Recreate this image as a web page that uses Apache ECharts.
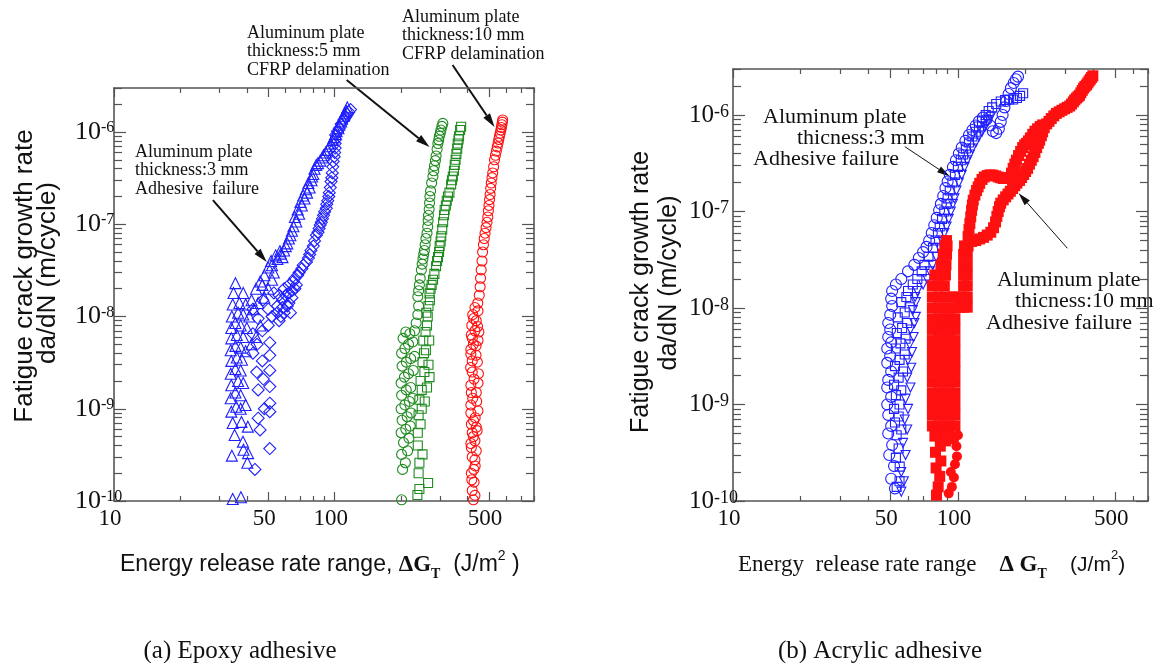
<!DOCTYPE html>
<html>
<head>
<meta charset="utf-8">
<title>Fatigue crack growth rate vs energy release rate range</title>
<script src="https://cdn.jsdelivr.net/npm/echarts@6.0.0/dist/echarts.min.js"></script>
<style>
    html, body { margin: 0; padding: 0; background: #ffffff; }
    #chart { width: 1166px; height: 663px; }
</style>
</head>
<body>
<div id="chart"></div>
<script>
var SERIF = '"Liberation Serif", "Times New Roman", serif';
var SANS = '"Liberation Sans", Arial, sans-serif';
var INK = '#111111';
var AXIS_COLOR = '#555555';
var BLUE = '#1f1fff';
var GREEN = '#1f8a1f';
var RED = '#ff1010';

/* ---- axis ranges, ticks and labels ---- */
var xMin = 10;
var epoxyXMax = 800;
var acrylXMax = 700;
var yMin = 1e-10;
var yMax = 3e-6;
var xMajorTicks = [10, 50, 100, 500];
var xMinorTicks = [20, 30, 40, 60, 70, 80, 90, 200, 300, 400, 600, 700, 800];
var yDecadeTicks = [1e-10, 1e-9, 1e-8, 1e-7, 1e-6];
var yMinorSteps = [2, 3, 4, 5, 6, 7, 8, 9];

/* ---- (a) epoxy adhesive: [dG_T (J/m2), da/dN (m/cycle)] ---- */
var epoxyTri3mm = [
    [34.5, 1.05e-10], [37.6, 1.1e-10], [40.2, 2.6e-10], [34.2, 3.1e-10], [38.6, 3.6e-10], [40.5, 3.3e-10],
    [38.4, 4.4e-10], [35.2, 5.2e-10], [40.4, 6.4e-10], [34.5, 7e-10], [37.8, 7.2e-10], [34, 9.3e-10],
    [37.5, 1e-9], [35.8, 1.05e-9], [39.5, 1.1e-9], [33.8, 1.3e-9], [37.5, 1.4e-9], [35.5, 1.5e-9],
    [34, 1.8e-9], [38.5, 1.9e-9], [36.5, 2e-9], [33.8, 2.4e-9], [37.5, 2.6e-9], [35.5, 2.7e-9],
    [34, 3.3e-9], [38, 3.4e-9], [36, 3.6e-9], [39.5, 4.2e-9], [33.8, 4.3e-9], [37.5, 4.6e-9],
    [35.5, 4.8e-9], [34, 5.8e-9], [38.5, 6e-9], [36, 6.3e-9], [34, 7.5e-9], [40, 7.5e-9],
    [37.5, 8e-9], [35.5, 8.5e-9], [41, 1e-8], [34.2, 1e-8], [38.5, 1.05e-8], [36.5, 1.1e-8],
    [34.5, 1.35e-8], [39.5, 1.35e-8], [37, 1.4e-8], [42, 1.5e-8], [34.8, 1.8e-8], [38.5, 1.8e-8],
    [42, 5e-9], [44, 6e-9], [46, 8e-9], [43, 1.2e-8], [45, 1.4e-8], [48, 1.6e-8],
    [50, 2e-8], [47, 2.2e-8], [52, 2.5e-8], [53, 3e-8],
    [44, 2e-8], [35.5, 2.3e-8], [46, 2.4e-8], [48, 2.8e-8], [50, 3.4e-8], [51.5, 4e-8],
    [54, 4.6e-8], [58, 4.4e-8], [56.5, 5.1e-8], [60, 5.8e-8], [62, 7e-8], [64, 8.5e-8],
    [67, 1.07e-7], [69, 1.3e-7], [71, 1.6e-7], [73, 1.9e-7], [75, 2.2e-7], [77, 2.5e-7],
    [78.5, 3e-7], [80, 3.5e-7], [82.5, 4.4e-7], [86, 4.9e-7], [89, 5.6e-7], [93, 6.4e-7],
    [96, 7.5e-7], [99, 8.8e-7], [102, 1.02e-6], [105, 1.2e-6], [108, 1.4e-6], [111, 1.6e-6],
    [114, 1.85e-6],
    [52, 3.6e-8], [55, 4.2e-8], [57, 4.8e-8], [59, 5.2e-8], [61, 6.2e-8], [63, 7.6e-8],
    [65, 9.5e-8], [66, 1.2e-7], [68, 1.45e-7], [70, 1.75e-7], [72, 2.05e-7], [74, 2.4e-7],
    [76, 2.8e-7], [79, 3.3e-7], [81, 4e-7], [84, 4.6e-7], [88, 5.3e-7], [91, 6e-7],
    [95, 7e-7], [98, 8.2e-7], [101, 9.5e-7], [104, 1.1e-6], [107, 1.3e-6], [110, 1.5e-6],
    [113, 1.7e-6]
];
var epoxyDia3mm = [
    [43.5, 2.2e-10], [50.8, 3.7e-10], [45.9, 5.9e-10], [45, 7.9e-10], [50.8, 9.3e-10], [48, 1e-9],
    [50.8, 1.15e-9], [45, 1.6e-9], [50.8, 1.74e-9], [47.5, 2.1e-9], [44.3, 2.5e-9], [50.8, 2.6e-9],
    [47, 3.3e-9], [50.8, 3.8e-9], [42.6, 4e-9], [44.5, 5e-9], [50.8, 5.2e-9], [42.6, 6.5e-9],
    [47, 7e-9], [50, 8e-9], [45, 9.5e-9], [52, 1e-8], [57, 1e-8], [55, 1.1e-8],
    [42.6, 1.2e-8], [50, 1.2e-8], [58, 1.25e-8], [61, 1.3e-8], [63, 1.1e-8], [55, 1.3e-8],
    [47.2, 1.5e-8], [58, 1.5e-8], [64, 1.6e-8], [56, 1.7e-8], [53, 1.8e-8], [62, 1.8e-8],
    [59, 2e-8], [66, 2e-8], [62, 2.2e-8], [65, 2.4e-8], [68, 2.8e-8], [71, 3.3e-8],
    [74.5, 3.9e-8], [77, 4.7e-8], [80, 5.8e-8], [82.6, 7.6e-8], [85, 9e-8], [87, 1.05e-7],
    [89, 1.25e-7], [91.6, 1.49e-7], [93, 1.8e-7], [94.5, 2.2e-7], [96.3, 2.9e-7], [97.5, 3.6e-7],
    [98.5, 4.8e-7], [100, 6e-7], [100.5, 7.5e-7], [101, 9.3e-7], [105, 1.1e-6], [110, 1.35e-6],
    [114, 1.55e-6], [118, 1.75e-6],
    [56, 9e-9], [59, 1.1e-8], [62, 1.4e-8], [60, 1.7e-8], [64, 1.9e-8], [67, 2.2e-8],
    [66, 2.6e-8], [69, 3e-8], [72, 3.6e-8], [76, 4.3e-8], [78, 5.2e-8], [81, 6.6e-8],
    [84, 8.2e-8], [86, 9.8e-8], [88, 1.15e-7], [90, 1.37e-7], [92, 1.65e-7], [94, 2e-7],
    [95.5, 2.5e-7], [97, 3.2e-7], [98, 4.2e-7], [99.5, 5.4e-7], [100.5, 6.7e-7], [101, 8.3e-7],
    [103, 1.02e-6], [107, 1.22e-6], [112, 1.45e-6], [116, 1.65e-6]
];
var epoxyCir5mm = [
    [201, 1.03e-10], [203, 2.2e-10], [209, 2.6e-10], [201, 3.2e-10], [214, 3.5e-10], [205, 4.3e-10],
    [217, 4.8e-10], [200, 5.5e-10], [210, 6e-10], [220, 6.5e-10], [202, 7.5e-10], [213, 8.2e-10],
    [222, 9e-10], [200, 1e-9], [208, 1.1e-9], [218, 1.2e-9], [226, 1.3e-9], [201, 1.4e-9],
    [211, 1.6e-9], [221, 1.7e-9], [200, 1.9e-9], [207, 2.2e-9], [216, 2.4e-9], [227, 2.6e-9],
    [202, 2.9e-9], [211, 3.2e-9], [221, 3.5e-9], [230, 3.7e-9], [201, 4e-9], [208, 4.5e-9],
    [216, 5e-9], [226, 5.3e-9], [204, 5.8e-9], [219, 6.5e-9], [210, 6.8e-9], [230, 7e-9],
    [234, 8.5e-9], [238, 1.05e-8], [240, 1.3e-8], [238, 1.64e-8], [240, 1.9e-8], [242, 2.2e-8],
    [244, 2.6e-8], [247, 3.2e-8], [249, 3.7e-8], [251, 4.2e-8], [253, 4.7e-8], [255, 5.2e-8],
    [257, 6e-8], [259, 7e-8], [262, 8e-8], [264, 9.4e-8], [265, 1.1e-7], [266, 1.25e-7],
    [268, 1.45e-7], [269, 1.7e-7], [270, 2e-7], [272, 2.3e-7], [275, 2.8e-7], [278.7, 3.3e-7],
    [281, 3.8e-7], [283, 4.3e-7], [286, 4.9e-7], [288, 5.5e-7], [291, 6.5e-7], [293.5, 7.5e-7],
    [296, 8.2e-7], [298, 9e-7], [301, 9.7e-7], [303, 1.05e-6], [306, 1.15e-6], [309, 1.24e-6]
];
var epoxySq5mm = [
    [237, 1.16e-10], [242, 1.35e-10], [265, 1.57e-10], [240, 2e-10], [242, 2.6e-10], [250, 3.2e-10],
    [238, 4e-10], [238, 5.5e-10], [245, 6.8e-10], [240, 8.5e-10], [248, 1e-9], [256, 1.2e-9],
    [242, 1.25e-9], [248, 1.6e-9], [262, 1.7e-9], [245, 2e-9], [269, 2.2e-9], [255, 2.5e-9],
    [266, 3e-9], [250, 3.2e-9], [254, 4e-9], [259, 4.3e-9], [252, 5.5e-9], [268, 5.5e-9],
    [258, 6.8e-9], [262, 8e-9], [264, 1e-8], [260, 1.1e-8], [266, 1.3e-8], [270, 1.5e-8],
    [269, 1.78e-8], [272, 2e-8], [275, 2.2e-8], [279, 2.5e-8], [283, 2.9e-8], [288, 3.5e-8],
    [291, 4e-8], [294, 4.4e-8], [297, 5e-8], [299, 5.8e-8], [302, 6.5e-8], [304, 7.4e-8],
    [307, 8.8e-8], [310, 1.05e-7], [313, 1.25e-7], [315, 1.43e-7], [319, 1.6e-7], [322, 1.8e-7],
    [326, 2e-7], [331, 2.2e-7], [337, 2.7e-7], [340, 3e-7], [343, 3.3e-7], [347, 3.8e-7],
    [350, 4.4e-7], [353, 5e-7], [356, 5.8e-7], [359, 6.6e-7], [361, 7.5e-7], [364, 8.3e-7],
    [366, 9e-7], [370, 1.05e-6], [374, 1.14e-6]
];
var epoxyCir10mm = [
    [425, 1.03e-10], [432, 1.15e-10], [420, 1.3e-10], [428, 1.6e-10], [418, 1.7e-10], [416, 2e-10],
    [427, 2.2e-10], [433, 2.4e-10], [420, 3e-10], [432, 2.8e-10], [438, 3.5e-10], [416, 3.8e-10],
    [414, 4.2e-10], [432, 4.5e-10], [425, 5e-10], [420, 5.5e-10], [442, 5.8e-10], [438, 6.3e-10],
    [416, 6.8e-10], [426, 7.4e-10], [433, 8e-10], [414, 9e-10], [446, 9.5e-10], [414, 1.1e-9],
    [440, 1.2e-9], [422, 1.3e-9], [416, 1.5e-9], [438, 1.5e-9], [414, 1.8e-9], [446, 1.9e-9],
    [428, 2.1e-9], [448, 2.4e-9], [420, 2.5e-9], [413, 2.8e-9], [443, 3.2e-9], [420, 3.3e-9],
    [437, 3.8e-9], [414, 3.9e-9], [414, 4.4e-9], [437, 4.8e-9], [425, 5e-9], [446, 5.5e-9],
    [420, 5.8e-9], [416, 6.3e-9], [432, 7e-9], [450, 6.8e-9], [444, 7.8e-9], [418, 8e-9],
    [438, 9e-9], [426, 9.5e-9], [422, 1.05e-8], [446, 1.15e-8], [432, 1.25e-8], [445, 1.4e-8],
    [452, 1.7e-8], [456, 2.1e-8], [458, 2.6e-8], [461, 3.2e-8], [465, 4e-8], [468, 5e-8],
    [472, 6e-8], [476, 7e-8], [480, 8e-8], [485, 9.2e-8], [490, 1.05e-7], [494, 1.2e-7],
    [497, 1.4e-7], [500, 1.6e-7], [503, 1.85e-7], [506, 2.1e-7], [509, 2.45e-7], [512, 2.8e-7],
    [516, 3.2e-7], [520, 3.6e-7], [525, 4.2e-7], [530, 5e-7], [535, 5.6e-7], [540, 6.2e-7],
    [545, 6.9e-7], [550, 7.6e-7], [554, 8.3e-7], [558, 9e-7], [562, 9.7e-7], [566, 1.05e-6],
    [569, 1.12e-6], [572, 1.2e-6], [575, 1.28e-6], [577, 1.35e-6]
];

/* ---- (b) acrylic adhesive ---- */
var acrylCir3mm = [
    [52.5, 1.35e-10], [50.5, 1.7e-10], [52, 2.3e-10], [49.5, 3e-10], [51, 3.8e-10], [49, 5e-10],
    [50.5, 6e-10], [49, 7.8e-10], [48.5, 1e-9], [50.5, 1.2e-9], [48.5, 1.5e-9], [49, 1.8e-9],
    [50.5, 2.2e-9], [48.5, 2.7e-9], [50, 3.2e-9], [48.5, 3.8e-9], [50.5, 4.4e-9], [49, 5e-9],
    [50, 6e-9], [49, 7e-9], [50, 8.5e-9], [51, 1.05e-8], [50.5, 1.25e-8], [51, 1.5e-8],
    [53, 1.75e-8], [56, 2e-8], [60, 2.4e-8], [64, 2.8e-8], [67, 3.3e-8], [70, 3.8e-8],
    [72.5, 4.3e-8], [74.5, 5e-8], [76.5, 6e-8], [78.5, 7.2e-8], [80.5, 8.6e-8], [82.5, 1.03e-7],
    [84, 1.2e-7], [86, 1.45e-7], [88, 1.75e-7], [90, 2.05e-7], [92, 2.4e-7], [95, 2.9e-7],
    [98, 3.4e-7], [101, 4e-7], [104, 4.6e-7], [108, 5.4e-7], [112, 6.2e-7], [116, 7e-7],
    [120, 7.8e-7], [124, 8.6e-7], [129, 9.4e-7], [134, 9e-7], [139, 7.8e-7], [143, 6.8e-7],
    [148, 6.5e-7], [152, 7.2e-7], [155, 8.5e-7], [158, 1e-6], [161, 1.2e-6], [164, 1.4e-6],
    [168, 1.65e-6], [172, 1.9e-6], [177, 2.15e-6], [181, 2.35e-6], [185, 2.5e-6]
];
var acrylSq3mm = [
    [53.4, 1.4e-10], [55, 1.6e-10], [55.1, 2.27e-10], [53, 2.8e-10], [54.5, 3.5e-10], [53.4, 4.8e-10],
    [56, 5.5e-10], [52.5, 6.5e-10], [54.5, 7.5e-10], [52, 9e-10], [55, 1e-9], [53, 1.25e-9],
    [56, 1.4e-9], [52, 1.6e-9], [54.5, 1.9e-9], [57, 2.2e-9], [52.5, 2.5e-9], [55, 2.9e-9],
    [58, 3.3e-9], [53, 3.8e-9], [55.5, 4.3e-9], [58.5, 4.8e-9], [53.5, 5.5e-9], [56.5, 6.2e-9],
    [59.5, 7e-9], [54, 8e-9], [58, 9e-9], [61, 1.02e-8], [56, 1.15e-8], [59, 1.3e-8],
    [60, 1.5e-8], [63, 1.75e-8], [66, 2e-8], [69, 2.4e-8], [71, 2.8e-8], [74, 3.4e-8],
    [77.5, 4.2e-8], [79.5, 5e-8], [81.5, 6e-8], [83, 7e-8], [85, 8.4e-8], [87, 1e-7],
    [89, 1.2e-7], [90, 1.37e-7], [92, 1.65e-7], [94.5, 2e-7], [97, 2.4e-7], [100, 2.9e-7],
    [103, 3.4e-7], [105.5, 3.9e-7], [108.5, 4.5e-7], [112, 5.2e-7], [116, 6e-7], [120, 6.7e-7],
    [124, 7.6e-7], [128, 8.6e-7], [133, 1e-6], [137, 1.1e-6], [142, 1.2e-6], [148, 1.3e-6],
    [155, 1.38e-6], [162, 1.43e-6], [169, 1.45e-6], [176, 1.45e-6], [183, 1.5e-6], [189, 1.58e-6],
    [195, 1.68e-6]
];
var acrylTri3mm = [
    [56, 1.25e-10], [57.5, 1.6e-10], [56, 2e-10], [58.5, 3e-10], [57, 4e-10], [59.5, 5.5e-10],
    [58, 7e-10], [60, 9e-10], [58.5, 1.15e-9], [61.5, 1.5e-9], [59.5, 1.9e-9], [62, 2.4e-9],
    [60, 2.9e-9], [62.5, 3.5e-9], [61, 4.2e-9], [63.5, 5e-9], [61.5, 6e-9], [64, 7e-9],
    [65, 8.1e-9], [63, 9.5e-9], [65, 1.15e-8], [64.5, 1.3e-8], [66, 1.5e-8], [70, 1.75e-8],
    [73, 2e-8], [75, 2.4e-8], [77, 2.8e-8], [80, 3.4e-8], [83, 4.2e-8], [85, 5e-8],
    [87, 6e-8], [89, 7e-8], [91, 8.4e-8], [93, 1e-7], [95, 1.2e-7], [96.5, 1.37e-7],
    [98.5, 1.65e-7], [101, 2e-7], [104, 2.4e-7], [107, 2.9e-7], [110, 3.4e-7], [113, 3.9e-7],
    [116, 4.5e-7], [120, 5.2e-7], [124, 6e-7], [128, 6.7e-7], [132, 7.6e-7], [136, 8.6e-7],
    [140, 9.6e-7]
];
var acrylSq10mm = [
    [80.3, 1.15e-10], [81.7, 1.4e-10], [83, 1.8e-10], [80, 2.2e-10], [84, 2.6e-10], [79.5, 3.2e-10],
    [83.5, 3.7e-10], [88, 4.2e-10], [79, 4.7e-10], [85, 5e-10], [91, 5.2e-10],
    [77, 6e-10], [82, 6e-10], [87, 6e-10], [92, 6e-10], [97, 6e-10],
    [77, 7.8e-10], [82, 7.8e-10], [87, 7.8e-10], [92, 7.8e-10], [97, 7.8e-10],
    [77, 1e-9], [82, 1e-9], [87, 1e-9], [92, 1e-9], [97, 1e-9],
    [77, 1.3e-9], [82, 1.3e-9], [87, 1.3e-9], [92, 1.3e-9], [97, 1.3e-9],
    [77, 1.7e-9], [82, 1.7e-9], [87, 1.7e-9], [92, 1.7e-9], [97, 1.7e-9],
    [77, 2.2e-9], [82, 2.2e-9], [87, 2.2e-9], [92, 2.2e-9], [97, 2.2e-9],
    [77, 2.8e-9], [82, 2.8e-9], [87, 2.8e-9], [92, 2.8e-9], [97, 2.8e-9],
    [77, 3.6e-9], [82, 3.6e-9], [87, 3.6e-9], [92, 3.6e-9], [97, 3.6e-9],
    [77, 4.6e-9], [82, 4.6e-9], [87, 4.6e-9], [92, 4.6e-9], [97, 4.6e-9],
    [77, 6e-9], [82, 6e-9], [87, 6e-9], [92, 6e-9], [97, 6e-9],
    [77, 7.7e-9], [82, 7.7e-9], [87, 7.7e-9], [92, 7.7e-9], [97, 7.7e-9],
    [77, 1e-8], [82, 1e-8], [87, 1e-8], [92, 1e-8], [97, 1e-8], [102, 1.02e-8], [106, 1.02e-8], [110, 1.02e-8],
    [77, 1.3e-8], [82, 1.3e-8], [87, 1.3e-8], [92, 1.3e-8], [97, 1.3e-8], [102, 1.3e-8], [106, 1.3e-8], [110, 1.3e-8],
    [77, 1.7e-8], [82, 1.7e-8], [87, 1.7e-8], [106, 1.7e-8], [110, 1.7e-8],
    [79, 2.2e-8], [84, 2.2e-8], [88, 2.2e-8], [106, 2.2e-8], [110, 2.2e-8],
    [84, 2.8e-8], [88.5, 2.8e-8], [106, 2.8e-8], [110, 2.8e-8],
    [86, 3.6e-8], [89, 3.6e-8], [106, 3.6e-8], [110, 3.6e-8],
    [87.5, 4.4e-8], [89.5, 4.4e-8], [107, 4.4e-8], [111, 4.4e-8], [89, 5e-8],
    [111, 5.5e-8], [112, 6.5e-8], [113, 7.5e-8], [114, 8.8e-8], [115, 1.03e-7], [116, 1.17e-7],
    [117, 1.31e-7], [119, 1.48e-7], [121, 1.65e-7], [123, 1.8e-7], [125, 1.96e-7], [128, 2.15e-7],
    [131, 2.28e-7], [135, 2.36e-7], [139, 2.4e-7], [143, 2.38e-7], [147, 2.34e-7], [151, 2.28e-7],
    [155, 2.24e-7], [159, 2.2e-7], [163, 2.2e-7], [167, 2.2e-7], [170, 2.25e-7], [173, 2.5e-7],
    [176, 2.8e-7], [179, 3.1e-7], [182, 3.4e-7], [186, 3.8e-7], [190, 4.2e-7], [194, 4.6e-7],
    [198, 4.9e-7], [202, 5.1e-7], [206, 5.4e-7], [210, 5.8e-7], [215, 6.3e-7], [220, 6.8e-7],
    [226, 7.2e-7], [232, 7.6e-7], [238, 7.9e-7],
    [115, 4.9e-8], [120, 5e-8], [125, 5.2e-8], [130, 5.4e-8], [135, 5.7e-8], [140, 6.1e-8],
    [144, 6.8e-8], [147, 7.8e-8], [149, 8.9e-8], [151, 1e-7], [153, 1.12e-7], [155, 1.22e-7],
    [159, 1.32e-7], [163, 1.42e-7], [167, 1.52e-7], [171, 1.62e-7], [175, 1.73e-7], [179, 1.85e-7],
    [183, 1.97e-7], [188, 2.1e-7], [192, 2.25e-7], [196, 2.42e-7], [200, 2.6e-7], [204, 2.8e-7],
    [208, 3.1e-7], [212, 3.4e-7], [216, 3.7e-7], [220, 4.1e-7], [224, 4.6e-7], [228, 5.1e-7],
    [231, 5.5e-7], [235, 6.1e-7], [238, 6.7e-7], [242, 7.4e-7],
    [248, 8.1e-7], [254, 8.6e-7], [260, 9.2e-7], [267, 9.8e-7], [274, 1.04e-6], [282, 1.08e-6],
    [290, 1.12e-6], [298, 1.16e-6], [306, 1.2e-6], [314, 1.24e-6], [320, 1.3e-6], [326, 1.37e-6],
    [331, 1.44e-6], [337, 1.5e-6], [342, 1.55e-6], [347, 1.6e-6], [352, 1.7e-6], [357, 1.8e-6],
    [362, 1.9e-6], [367, 1.98e-6], [373, 2.05e-6], [378, 2.15e-6], [383, 2.25e-6], [388, 2.35e-6],
    [393, 2.45e-6], [398, 2.55e-6]
];
var acrylCir10mm = [
    [91, 1.2e-10], [94, 1.4e-10], [96, 1.75e-10], [93, 2e-10], [97, 2.4e-10], [99, 2.9e-10],
    [98.5, 3.7e-10], [96, 4.3e-10], [100, 4.8e-10]
];

/* ---- annotation arrows: [from, to] in data coordinates ---- */
var epoxyArrows = [
    [[28.06, 1.83e-7], [49.2, 3.9e-8]],
    [[113.3, 3.66e-6], [269, 6.88e-7]],
    [[342, 5.32e-6], [530, 1.13e-6]]
];
var acrylArrows = [
    [[58.1, 4.7e-7], [92.1, 2.3e-7]],
    [[306.7, 4.16e-8], [186.2, 1.55e-7]]
];

/**
 * 只保留坐标轴范围内的刻度
 */
function within(values, lo, hi) {
    return values.filter(function (v) {
        return v >= lo * 0.999 && v <= hi * 1.001;
    });
}

/**
 * 对数坐标轴的公共配置
 */
function logAxis(gridIndex, min, max, extra) {
    var axis = {
        type: 'log',
        logBase: 10,
        gridIndex: gridIndex,
        min: min,
        max: max,
        splitLine: {show: false},
        axisLine: {show: false, onZero: false},
        axisLabel: {show: false},
        axisTick: {show: false}
    };
    return Object.assign(axis, extra);
}

function tickStyle(values, length) {
    return {
        show: true,
        inside: true,
        length: length,
        customValues: values,
        lineStyle: {color: AXIS_COLOR, width: 1.2}
    };
}

var boxLine = {show: true, onZero: false, lineStyle: {color: AXIS_COLOR, width: 1.6}};

/**
 * 下/上 X 轴 (主刻度 + 次刻度)
 */
function buildXAxes(gridIndex, max) {
    var major = within(xMajorTicks, xMin, max);
    var minor = within(xMinorTicks, xMin, max);
    return [
        logAxis(gridIndex, xMin, max, {
            position: 'bottom',
            axisLine: boxLine,
            axisTick: tickStyle(major, 9),
            axisLabel: {
                show: true,
                customValues: major,
                margin: 6,
                padding: [0, 8, 0, 0],
                fontFamily: SERIF,
                fontSize: 23,
                color: INK,
                formatter: function (v) {
                    return String(Math.round(v));
                }
            }
        }),
        logAxis(gridIndex, xMin, max, {position: 'bottom', axisTick: tickStyle(minor, 5)}),
        logAxis(gridIndex, xMin, max, {position: 'top', axisLine: boxLine, axisTick: tickStyle(major, 9)}),
        logAxis(gridIndex, xMin, max, {position: 'top', axisTick: tickStyle(minor, 5)})
    ];
}

/**
 * 左/右 Y 轴, 标签 10 的上标形式
 */
function buildYAxes(gridIndex, labelMargin, baseSize, supSize) {
    var major = within(yDecadeTicks, yMin, yMax);
    var minor = [];
    yDecadeTicks.forEach(function (d) {
        yMinorSteps.forEach(function (s) {
            minor.push(d * s);
        });
    });
    minor = within(minor, yMin, yMax);
    return [
        logAxis(gridIndex, yMin, yMax, {
            position: 'left',
            axisLine: boxLine,
            axisTick: tickStyle(major, 12),
            axisLabel: {
                show: true,
                customValues: major,
                margin: labelMargin,
                align: 'left',
                formatter: function (v) {
                    return '{b|10}{s|' + Math.round(Math.log(v) / Math.LN10) + '}';
                },
                rich: {
                    b: {fontFamily: SERIF, fontSize: baseSize, color: INK, lineHeight: 26},
                    s: {fontFamily: SERIF, fontSize: supSize, color: INK, verticalAlign: 'top', padding: [1, 0, 0, 0]}
                }
            }
        }),
        logAxis(gridIndex, yMin, yMax, {position: 'left', axisTick: tickStyle(minor, 8)}),
        logAxis(gridIndex, yMin, yMax, {position: 'right', axisLine: boxLine, axisTick: tickStyle(major, 12)}),
        logAxis(gridIndex, yMin, yMax, {position: 'right', axisTick: tickStyle(minor, 8)})
    ];
}

/**
 * 散点系列, 空心或实心标记
 */
function scatter(name, data, grid, symbol, size, color, filled, rotate) {
    return {
        name: name,
        type: 'scatter',
        data: data,
        xAxisIndex: grid * 4,
        yAxisIndex: grid * 4,
        symbol: symbol,
        symbolSize: size,
        symbolRotate: rotate || 0,
        itemStyle: filled
            ? {color: color, opacity: 1}
            : {color: 'rgba(0,0,0,0)', borderColor: color, borderWidth: 1.1, opacity: 1},
        emphasis: {disabled: true},
        silent: true
    };
}

function label(x, y, text, size, family, extra) {
    var el = {
        type: 'text',
        x: x,
        y: y,
        silent: true,
        style: {
            text: text,
            fontSize: size,
            fontFamily: family,
            fill: INK,
            align: 'left',
            verticalAlign: 'middle'
        }
    };
    if (extra) {
        Object.assign(el.style, extra.style || {});
        if (extra.rotation) {
            el.rotation = extra.rotation;
        }
    }
    return el;
}

var staticGraphics = [
    // (a) annotations
    label(135, 152, 'Aluminum plate', 18, SERIF),
    label(135, 170.5, 'thickness:3 mm', 18, SERIF),
    label(135, 189, 'Adhesive  failure', 18, SERIF),
    label(247, 33, 'Aluminum plate', 18, SERIF),
    label(247, 51.5, 'thickness:5 mm', 18, SERIF),
    label(247, 70, 'CFRP delamination', 18, SERIF),
    label(402, 17, 'Aluminum plate', 18, SERIF),
    label(402, 35.5, 'thickness:10 mm', 18, SERIF),
    label(402, 54, 'CFRP delamination', 18, SERIF),
    // (b) annotations
    label(763, 117, 'Aluminum plate', 22, SERIF),
    label(797, 138, 'thicness:3 mm', 22, SERIF),
    label(753, 159, 'Adhesive failure', 22, SERIF),
    label(997, 280, 'Aluminum plate', 22, SERIF),
    label(1015, 301, 'thicness:10 mm', 22, SERIF),
    label(986, 323, 'Adhesive failure', 22, SERIF),
    // y axis titles
    label(25, 276, 'Fatigue crack growth rate', 26, SANS, {style: {align: 'center'}, rotation: Math.PI / 2}),
    label(48, 273, 'da/dN (m/cycle)', 26, SANS, {style: {align: 'center'}, rotation: Math.PI / 2}),
    label(641, 292, 'Fatigue crack growth rate', 25, SANS, {style: {align: 'center'}, rotation: Math.PI / 2}),
    label(669, 283, 'da/dN (m/cycle)', 25, SANS, {style: {align: 'center'}, rotation: Math.PI / 2}),
    // x axis titles
    label(120, 565, '{a|Energy release rate range, }{d|\u0394G}{t|T}{a|  (J/m}{p|2}{a| )}', 23, SANS, {
        style: {
            rich: {
                a: {fontFamily: SANS, fontSize: 23, fill: INK, lineHeight: 32},
                d: {fontFamily: SERIF, fontSize: 23, fontWeight: 'bold', fill: INK, lineHeight: 32},
                t: {fontFamily: SERIF, fontSize: 14, fontWeight: 'bold', fill: INK, verticalAlign: 'bottom'},
                p: {fontFamily: SANS, fontSize: 14, fill: INK, verticalAlign: 'top'}
            }
        }
    }),
    label(738, 565, '{s|Energy  release rate range    }{d|\u0394 G}{t|T}{a|    (J/m}{p|2}{a|)}', 23, SERIF, {
        style: {
            rich: {
                s: {fontFamily: SERIF, fontSize: 23, fill: INK, lineHeight: 32},
                d: {fontFamily: SERIF, fontSize: 23, fontWeight: 'bold', fill: INK, lineHeight: 32},
                t: {fontFamily: SERIF, fontSize: 14, fontWeight: 'bold', fill: INK, verticalAlign: 'bottom'},
                a: {fontFamily: SANS, fontSize: 21, fill: INK, lineHeight: 32},
                p: {fontFamily: SANS, fontSize: 13, fill: INK, verticalAlign: 'top'}
            }
        }
    }),
    // captions
    label(240, 651, '(a) Epoxy adhesive', 25, SERIF, {style: {align: 'center'}}),
    label(880, 651, '(b) Acrylic adhesive', 25, SERIF, {style: {align: 'center'}})
];

var myChart = echarts.init(document.getElementById('chart'), null, {renderer: 'canvas'});

var option = {
    backgroundColor: '#ffffff',
    animation: false,
    grid: [
        {left: 114, top: 88, width: 420, height: 413, outerBoundsMode: 'none', containLabel: false},
        {left: 733, top: 69, width: 415, height: 432, outerBoundsMode: 'none', containLabel: false}
    ],
    xAxis: buildXAxes(0, epoxyXMax).concat(buildXAxes(1, acrylXMax)),
    yAxis: buildYAxes(0, 39, 26, 16).concat(buildYAxes(1, 44, 25, 18)),
    series: [
        scatter('Epoxy 3 mm (a)', epoxyTri3mm, 0, 'triangle', 11, BLUE, false),
        scatter('Epoxy 3 mm (b)', epoxyDia3mm, 0, 'diamond', 12, BLUE, false),
        scatter('Epoxy 5 mm (a)', epoxyCir5mm, 0, 'circle', 10, GREEN, false),
        scatter('Epoxy 5 mm (b)', epoxySq5mm, 0, 'rect', 9, GREEN, false),
        scatter('Epoxy 10 mm', epoxyCir10mm, 0, 'circle', 10, RED, false),
        scatter('Acrylic 3 mm (a)', acrylCir3mm, 1, 'circle', 11, BLUE, false),
        scatter('Acrylic 3 mm (b)', acrylSq3mm, 1, 'rect', 9, BLUE, false),
        scatter('Acrylic 3 mm (c)', acrylTri3mm, 1, 'triangle', 9, BLUE, false, 180),
        scatter('Acrylic 10 mm (a)', acrylSq10mm, 1, 'rect', 11, RED, true),
        scatter('Acrylic 10 mm (b)', acrylCir10mm, 1, 'circle', 10, RED, true)
    ],
    graphic: {elements: staticGraphics}
};

if (option && typeof option === "object") {
    myChart.setOption(option, true);
}

/**
 * 箭头: 通过坐标系换算到像素后绘制
 */
function arrowShapes(arrows, seriesIndex, lineWidth, headLength, headWidth) {
    var shapes = [];
    arrows.forEach(function (arrow) {
        var p0 = myChart.convertToPixel({seriesIndex: seriesIndex}, arrow[0]);
        var p1 = myChart.convertToPixel({seriesIndex: seriesIndex}, arrow[1]);
        var ang = Math.atan2(p1[1] - p0[1], p1[0] - p0[0]);
        var bx = p1[0] - headLength * Math.cos(ang);
        var by = p1[1] - headLength * Math.sin(ang);
        var nx = -Math.sin(ang) * headWidth / 2;
        var ny = Math.cos(ang) * headWidth / 2;
        shapes.push({
            type: 'line', silent: true,
            shape: {x1: p0[0], y1: p0[1], x2: bx, y2: by},
            style: {stroke: INK, lineWidth: lineWidth}
        });
        shapes.push({
            type: 'polygon', silent: true,
            shape: {points: [[p1[0], p1[1]], [bx + nx, by + ny], [bx - nx, by - ny]]},
            style: {fill: INK}
        });
    });
    return shapes;
}

myChart.setOption({
    graphic: {
        elements: staticGraphics
            .concat(arrowShapes(epoxyArrows, 0, 2, 14, 8))
            .concat(arrowShapes(acrylArrows, 5, 1, 13, 7))
    }
});
</script>
</body>
</html>
